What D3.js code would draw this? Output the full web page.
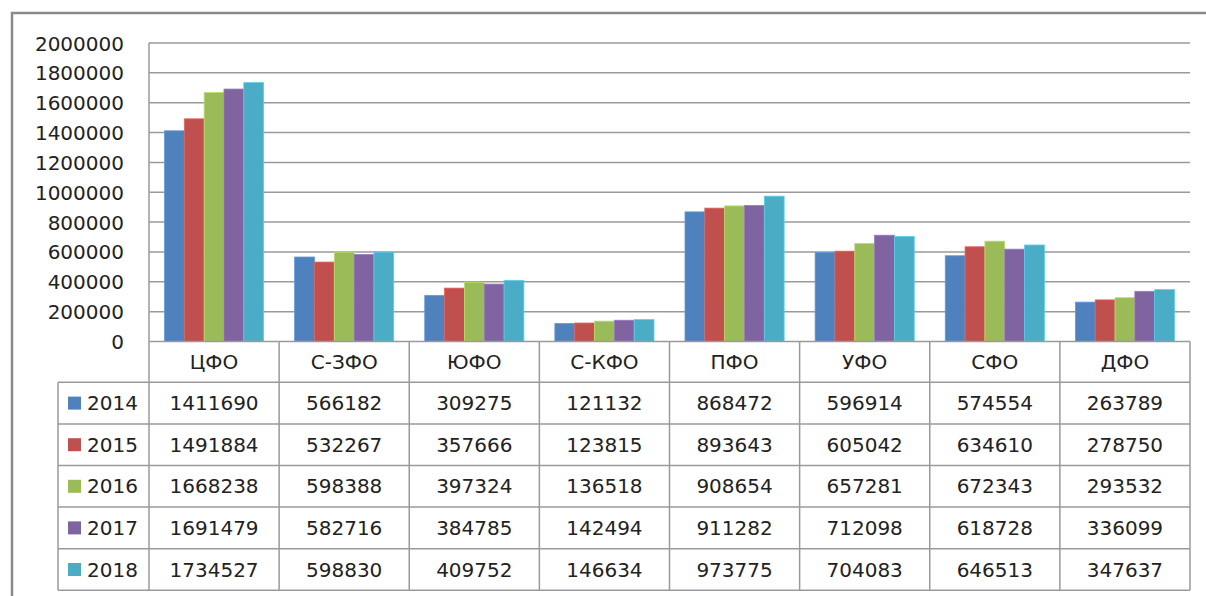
<!DOCTYPE html>
<html><head><meta charset="utf-8">
<script src="https://cdn.jsdelivr.net/npm/d3@7"></script>
<style>
html,body{margin:0;padding:0;background:#fff;}
svg{display:block;}
text{font-family:"DejaVu Sans",sans-serif;fill:#222;}
</style></head>
<body>
<svg id="chart" width="1206" height="596"></svg>
<script>
const categories = ["ЦФО","С-ЗФО","ЮФО","С-КФО","ПФО","УФО","СФО","ДФО"];
const years = ["2014","2015","2016","2017","2018"];
const v2014 = [1411690,566182,309275,121132,868472,596914,574554,263789];
const v2015 = [1491884,532267,357666,123815,893643,605042,634610,278750];
const v2016 = [1668238,598388,397324,136518,908654,657281,672343,293532];
const v2017 = [1691479,582716,384785,142494,911282,712098,618728,336099];
const v2018 = [1734527,598830,409752,146634,973775,704083,646513,347637];
const series = [v2014,v2015,v2016,v2017,v2018];
const colors = ["#4F81BD","#C0504D","#9BBB59","#8064A2","#4BACC6"];
const yTicks = [0,200000,400000,600000,800000,1000000,1200000,1400000,1600000,1800000,2000000];

const svg = d3.select("#chart");
const L = 149, R = 1190, T = 43, B = 341.5;
const rowH = 41.6, headerBottom = 382.3;
const legendLeft = 58;
const grid = "#9a9a9a";

// outer frame
svg.append("rect").attr("x",12).attr("y",13).attr("width",1210).attr("height",610)
  .attr("fill","none").attr("stroke","#8a8a8a").attr("stroke-width",2.5);

const x0 = d3.scaleBand().domain(categories).range([L,R]).padding(0);
const x1 = d3.scaleBand().domain(years).range([15.5, x0.bandwidth()-15.5]).padding(0);
const y = d3.scaleLinear().domain([0,2000000]).range([B,T]);

// gridlines
svg.append("g").selectAll("line").data(yTicks.filter(d=>d>0)).join("line")
  .attr("x1",L).attr("x2",R).attr("y1",d=>y(d)).attr("y2",d=>y(d))
  .attr("stroke",grid).attr("stroke-width",1.5);

// y axis labels
const yAxis = d3.axisLeft(y).tickValues(yTicks).tickSize(0).tickPadding(0).tickFormat(d3.format("d"));
const ya = svg.append("g").attr("transform",`translate(124,0)`).call(yAxis);
ya.select(".domain").remove();
ya.selectAll("text").attr("font-size",20).attr("font-family","DejaVu Sans").attr("fill","#222").attr("dy","0.35em");

// bars
const g = svg.append("g");
categories.forEach((c,ci)=>{
  years.forEach((yr,si)=>{
    const v = series[si][ci];
    g.append("rect")
      .attr("x", x0(c)+x1(yr)).attr("width", x1.bandwidth())
      .attr("y", y(v)).attr("height", B - y(v))
      .attr("fill", colors[si])
      .attr("stroke", d3.color(colors[si]).brighter(0.5)).attr("stroke-width",0.8);
  });
});

// left axis line
svg.append("line").attr("x1",L).attr("x2",L).attr("y1",T).attr("y2",B)
  .attr("stroke",grid).attr("stroke-width",1.5);

// table lines
const tbl = svg.append("g").attr("stroke",grid).attr("stroke-width",1.5);
tbl.append("line").attr("x1",L).attr("x2",R).attr("y1",B).attr("y2",B);
const rowYs = d3.range(6).map(i=>headerBottom + i*rowH);
rowYs.forEach(yy=>tbl.append("line").attr("x1",legendLeft).attr("x2",R).attr("y1",yy).attr("y2",yy));
const bottom = rowYs[5];
tbl.append("line").attr("x1",legendLeft).attr("x2",legendLeft).attr("y1",headerBottom).attr("y2",bottom);
categories.forEach(c=>tbl.append("line").attr("x1",x0(c)).attr("x2",x0(c)).attr("y1",B).attr("y2",bottom));
tbl.append("line").attr("x1",R).attr("x2",R).attr("y1",B).attr("y2",bottom);

// header labels
svg.append("g").selectAll("text").data(categories).join("text")
  .attr("x",d=>x0(d)+x0.bandwidth()/2).attr("y",(B+headerBottom)/2)
  .attr("dy","0.35em").attr("text-anchor","middle").attr("font-size",20).text(d=>d);

// rows
years.forEach((yr,si)=>{
  const cy = headerBottom + si*rowH + rowH/2;
  svg.append("rect").attr("x",68).attr("y",cy-6.5).attr("width",13).attr("height",13).attr("fill",colors[si]);
  svg.append("text").attr("x",87).attr("y",cy).attr("dy","0.35em").attr("font-size",20).text(yr);
  categories.forEach((c,ci)=>{
    svg.append("text").attr("x",x0(c)+x0.bandwidth()/2).attr("y",cy).attr("dy","0.35em")
      .attr("text-anchor","middle").attr("font-size",20).text(series[si][ci]);
  });
});
</script>
</body></html>
